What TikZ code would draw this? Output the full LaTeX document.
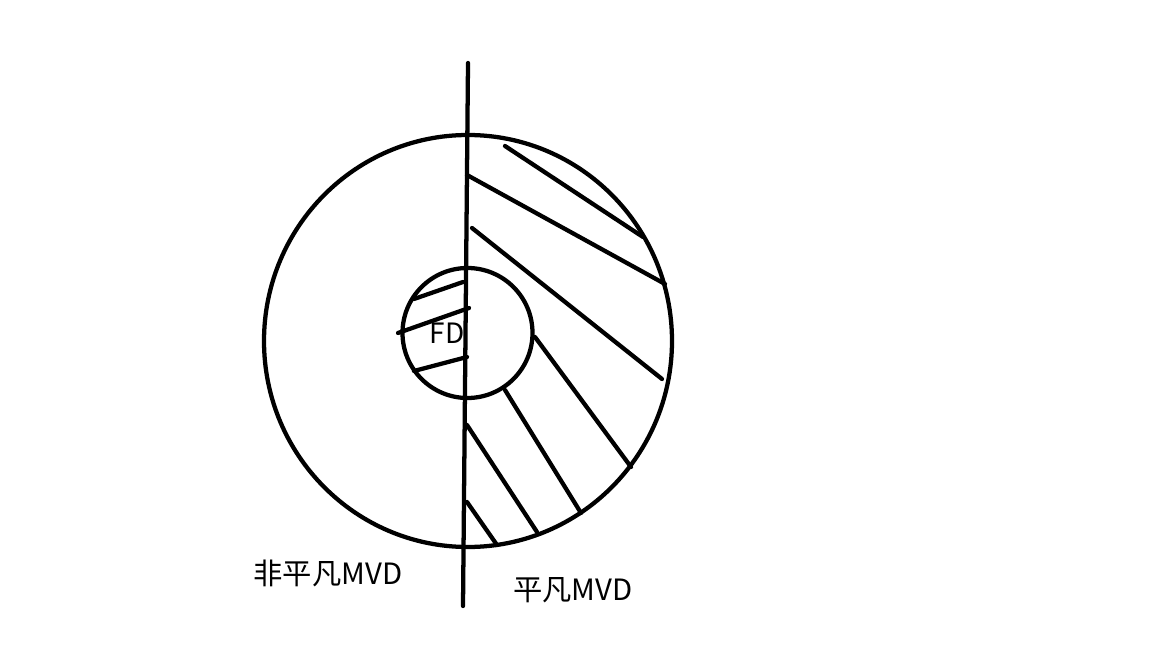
\documentclass[tikz,border=0pt]{standalone}
\usepackage{fontspec}
\newfontfamily\cjk{Noto Sans CJK SC}
\begin{document}
\begin{tikzpicture}[x=0.75pt,y=-0.75pt,
  stroke/.style={line width=3.2pt,line cap=round,black},
  lbl/.style={font=\cjk\fontsize{22}{26}\selectfont,inner sep=0pt}]
\useasboundingbox (0,0) rectangle (1152,648);
% circles
\draw[stroke] (468,341) ellipse [x radius=204,y radius=206];
\draw[stroke] (467.5,333) circle [radius=65];
% divider
\coordinate (vtop) at (468,63);
\coordinate (vbot) at (463,606);
\draw[stroke] (vtop) -- (vbot);
% hatches in outer ring (right half)
\draw[stroke] (505,146) -- (643,237);
\draw[stroke] (467,175) -- (665,284);
\draw[stroke] (472,228) -- (662,379);
\draw[stroke] (535,337) -- (631,467);
\draw[stroke] (505,390) -- (581,513);
\draw[stroke] (467,425) -- (537,532);
\draw[stroke] (467,502) -- (497,545);
% hatches in inner circle (left half)
\draw[stroke] (414,299) -- (463,282);
\draw[stroke] (398,333) -- (469,308);
\draw[stroke] (414,371) -- (467,357);
% labels
\node[lbl,font=\cjk\fontsize{21}{24}\selectfont] (fd) at (447,333) {FD};
\node[lbl] (nt) at (328,573) {非平凡MVD};
\node[lbl] (tr) at (573,590) {平凡MVD};
\end{tikzpicture}
\end{document}
